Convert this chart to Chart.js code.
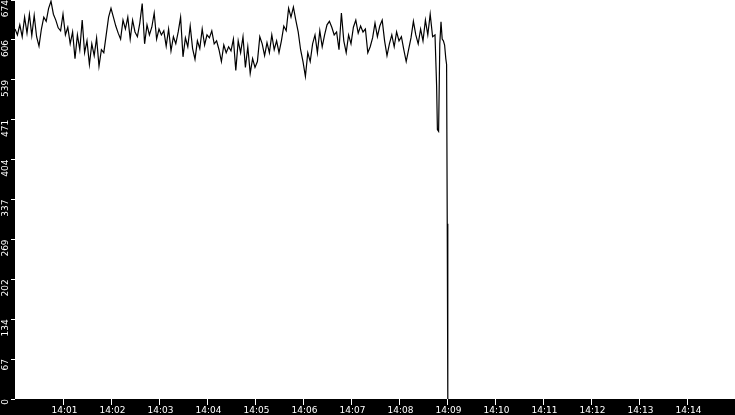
<!DOCTYPE html>
<html>
<head>
<meta charset="utf-8">
<script src="https://cdn.jsdelivr.net/npm/chart.js@4/dist/chart.umd.min.js"></script>
<style>
  html, body { margin: 0; padding: 0; background: #000; }
  canvas { display: block; }
</style>
</head>
<body>
<canvas id="myChart" width="735" height="415"></canvas>
<script>
// samples every 3 seconds starting 14:00:00
const sampleStep = 3;
const values = [
    625, 615, 632, 612, 645, 618, 650, 614, 648, 612,
    596, 625, 645, 638, 660, 672, 650, 640, 627, 622,
    650, 615, 628, 600, 620, 575, 615, 590, 640, 585,
    605, 565, 600, 580, 610, 562, 590, 585, 615, 645,
    660, 645, 630, 618, 608, 640,
    625, 645, 608, 640, 620, 612, 635, 668, 600, 632,
    615, 628, 652, 608, 625, 615, 622, 596, 625, 588,
    612, 600, 620, 645, 578, 610, 595, 630, 592, 574,
    605, 592, 625, 598, 615, 610, 622, 600, 605, 590,
    570, 598, 585, 595, 588, 608,
    555, 605, 585, 612, 560, 595, 550, 575, 560, 570,
    612, 600, 580, 602, 585, 615, 590, 605, 585, 605,
    630, 622, 660, 645, 662, 640, 620, 590, 570, 545,
    585, 570, 600, 615, 585, 622, 595, 615, 632, 638,
    628, 615, 620, 590, 652,
    605, 585, 615, 600, 628, 640, 618, 630, 620, 625,
    585, 595, 610, 635, 612, 630, 640, 605, 580, 600,
    615, 595, 620, 605, 612, 590, 570, 590, 610, 638,
    615, 600, 625, 605, 640, 615, 650, 612, 615
];
// last seconds before the drop, sampled finer
const tailSeconds = [527, 528, 529.5, 531, 532.5, 534, 535.5, 537, 538.5, 539.5, 540.3, 541];
const tailValues = [530, 455, 452, 600, 637, 608, 605, 598, 575, 565, 296, 0];

const xTickLabels = ['14:01', '14:02', '14:03', '14:04', '14:05', '14:06', '14:07',
    '14:08', '14:09', '14:10', '14:11', '14:12', '14:13', '14:14'];
const yTickLabels = ['0', '67', '134', '202', '269', '337', '404', '471', '539', '606', '674'];
const yMax = 674;
const xMax = 900;

const points = values.map((v, i) => ({ x: i * sampleStep, y: v }))
    .concat(tailSeconds.map((s, i) => ({ x: s, y: tailValues[i] })));

const backdrop = {
    id: 'backdrop',
    beforeDraw(chart) {
        const { ctx, chartArea } = chart;
        ctx.save();
        ctx.fillStyle = '#000';
        ctx.fillRect(0, 0, chart.width, chart.height);
        ctx.fillStyle = '#fff';
        ctx.fillRect(chartArea.left, chartArea.top,
            chartArea.right - chartArea.left, chartArea.bottom - chartArea.top);
        ctx.restore();
    }
};

const font = { family: 'DejaVu Sans', size: 9 };

new Chart(document.getElementById('myChart').getContext('2d'), {
    type: 'line',
    data: {
        datasets: [{
            data: points,
            borderColor: '#000',
            borderWidth: 1.2,
            pointRadius: 0,
            tension: 0,
            fill: false
        }]
    },
    options: {
        responsive: false,
        animation: false,
        layout: { padding: 0 },
        plugins: { legend: { display: false }, tooltip: { enabled: false } },
        scales: {
            x: {
                type: 'linear',
                min: 0,
                max: xMax,
                border: { display: false },
                grid: { drawOnChartArea: false, tickColor: '#fff', tickLength: 6 },
                ticks: {
                    color: '#fff',
                    font: font,
                    padding: 0,
                    labelOffset: 1.5,
                    maxRotation: 0,
                    autoSkip: false,
                    callback: (v) => xTickLabels[v / 60 - 1]
                },
                afterBuildTicks: (s) => {
                    s.ticks = xTickLabels.map((l, i) => ({ value: (i + 1) * 60 }));
                },
                afterFit: (s) => {
                    s.height = 16;
                    s.paddingLeft = 0;
                    s.paddingRight = 0;
                }
            },
            y: {
                min: 0,
                max: yMax,
                border: { display: false },
                grid: { drawOnChartArea: false, tickColor: '#fff', tickLength: 4 },
                ticks: {
                    color: '#fff',
                    font: font,
                    padding: 5,
                    minRotation: 90,
                    maxRotation: 90,
                    autoSkip: false,
                    callback: (v, i) => yTickLabels[i]
                },
                afterBuildTicks: (s) => {
                    s.ticks = yTickLabels.map((l, i) => ({ value: yMax * i / 10 }));
                },
                afterFit: (s) => {
                    s.width = 15;
                    s.paddingTop = 0;
                    s.paddingBottom = 0;
                }
            }
        }
    },
    plugins: [backdrop]
});
</script>
</body>
</html>
